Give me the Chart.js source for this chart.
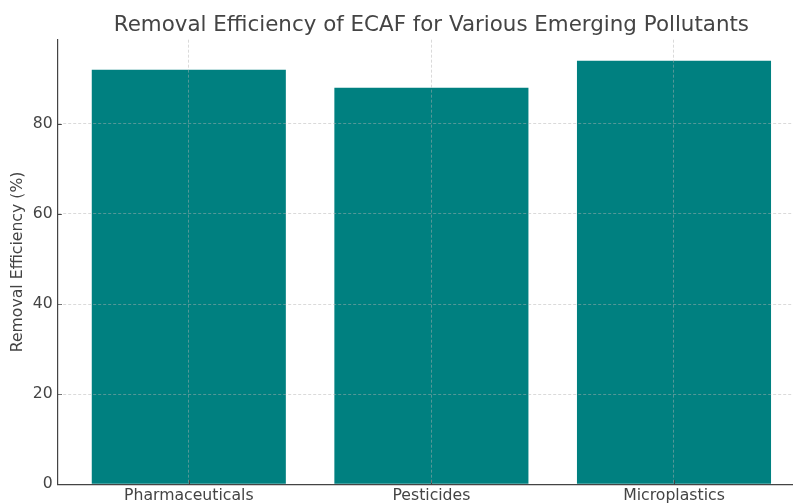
<!doctype html>
<html>
<head>
	<title>Removal Efficiency of ECAF</title>
	<script src="https://cdn.jsdelivr.net/npm/chart.js@4/dist/chart.umd.min.js"></script>
	<style>
		html, body { margin: 0; padding: 0; overflow: hidden; background: #fff; }
	</style>
</head>
<body>
	<canvas id="chart-area" width="806" height="507"></canvas>
	<script>
		// data
		var categories = ['Pharmaceuticals', 'Pesticides', 'Microplastics'];
		var efficiency = [92, 88, 94];
		var yTicks = [0, 20, 40, 60, 80];

		var textColor = '#444444';
		var gridColor = 'rgba(176, 176, 176, 0.6)';
		var fontFamily = 'DejaVu Sans';

		var config = {
			type: 'bar',
			data: {
				datasets: [{
					label: 'Removal Efficiency (%)',
					data: categories.map(function(c, i) {
						return { x: i, y: efficiency[i] };
					}),
					backgroundColor: '#008080',
					borderWidth: 0,
					categoryPercentage: 1.0,
					barPercentage: 0.8
				}]
			},
			options: {
				responsive: false,
				animation: false,
				layout: { padding: { left: 0, right: 1, top: 0, bottom: 0 } },
				plugins: {
					legend: { display: false },
					tooltip: { enabled: false },
					title: {
						display: true,
						text: 'Removal Efficiency of ECAF for Various Emerging Pollutants',
						color: textColor,
						fullSize: false,
						font: { family: fontFamily, size: 21.4, weight: 'normal' },
						padding: { top: 13, bottom: 1 }
					}
				},
				scales: {
					x: {
						type: 'linear',
						min: -0.54,
						max: 2.54,
						offset: false,
						afterBuildTicks: function(axis) {
							axis.ticks = categories.map(function(c, i) { return { value: i }; });
						},
						grid: {
							color: gridColor,
							lineWidth: 0.8,
							drawTicks: false,
							offset: false,
							z: 1
						},
						border: { display: true, color: '#444444', width: 1.2, dash: [3, 2], z: 2 },
						ticks: {
							color: textColor,
							padding: 2,
							autoSkip: false,
							maxRotation: 0,
							font: { family: fontFamily, size: 15.7 },
							callback: function(value) { return categories[value]; }
						}
					},
					y: {
						min: 0,
						max: 98.7,
						afterBuildTicks: function(axis) {
							axis.ticks = yTicks.map(function(v) { return { value: v }; });
						},
						grid: {
							color: function(ctx) {
								return ctx.tick && ctx.tick.value === 0 ? 'rgba(0,0,0,0)' : gridColor;
							},
							lineWidth: 0.8,
							drawTicks: false,
							z: 1
						},
						border: { display: true, color: '#444444', width: 1.2, dash: [3, 2], z: 2 },
						ticks: {
							color: textColor,
							padding: 5,
							font: { family: fontFamily, size: 15.7 }
						},
						title: {
							display: true,
							text: 'Removal Efficiency (%)',
							color: textColor,
							font: { family: fontFamily, size: 15.7 },
							padding: { top: 9, bottom: 0 }
						}
					}
				}
			}
		};

		// matplotlib draws short tick marks pointing inward
		var inwardTicks = {
			id: 'inwardTicks',
			afterDatasetsDraw: function(chart) {
				var ctx = chart.ctx;
				var area = chart.chartArea;
				ctx.save();
				ctx.strokeStyle = '#444444';
				ctx.lineWidth = 1;
				chart.scales.x.ticks.forEach(function(t) {
					var px = Math.round(chart.scales.x.getPixelForValue(t.value)) + 0.5;
					ctx.beginPath();
					ctx.moveTo(px, area.bottom);
					ctx.lineTo(px, area.bottom - 4);
					ctx.stroke();
				});
				chart.scales.y.ticks.forEach(function(t) {
					var py = Math.round(chart.scales.y.getPixelForValue(t.value)) + 0.5;
					ctx.beginPath();
					ctx.moveTo(area.left, py);
					ctx.lineTo(area.left + 4, py);
					ctx.stroke();
				});
				ctx.restore();
			}
		};
		Chart.register(inwardTicks);

		window.onload = function() {
			var ctx = document.getElementById('chart-area').getContext('2d');
			window.myBar = new Chart(ctx, config);
		};
	</script>
</body>
</html>
